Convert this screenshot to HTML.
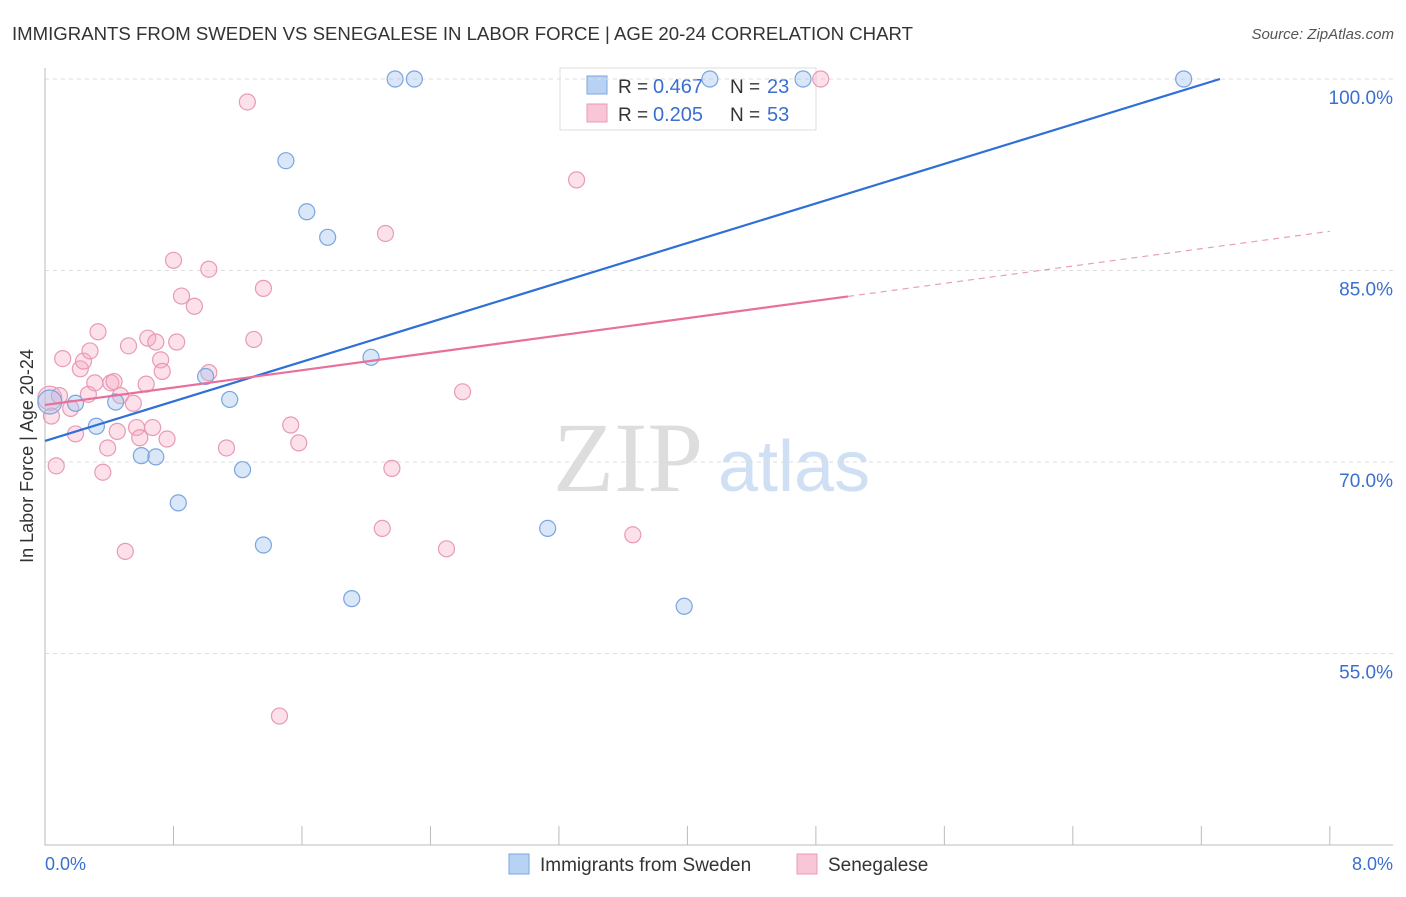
<!DOCTYPE html>
<html><head><meta charset="utf-8"><style>
body{margin:0;background:#fff;font-family:"Liberation Sans",sans-serif}
</style></head><body>
<svg id="chart" width="1406" height="892" viewBox="0 0 1406 892" font-family="Liberation Sans, sans-serif">
<text x="12" y="40" font-size="18.6" fill="#333">IMMIGRANTS FROM SWEDEN VS SENEGALESE IN LABOR FORCE | AGE 20-24 CORRELATION CHART</text>
<text x="1394" y="39" font-size="15" fill="#555" font-style="italic" text-anchor="end">Source: ZipAtlas.com</text>
<text x="553" y="491" font-size="100" fill="#ddd" style="font-family:'Liberation Serif',serif">ZIP</text>
<text x="718" y="491" font-size="72" fill="#cfe0f4">atlas</text>
<g>
<rect x="560" y="68" width="256" height="62" fill="#fff" stroke="#ddd"/>
<rect x="587" y="76" width="20" height="18" fill="#b8d2f4" stroke="#7aa5e0"/>
<rect x="587" y="104" width="20" height="18" fill="#f8c6d6" stroke="#e89ab5"/>
<text x="618" y="93" font-size="19" fill="#333">R =</text><text x="653" y="93" font-size="20" fill="#3a6fd0">0.467</text>
<text x="730" y="93" font-size="19" fill="#333">N =</text><text x="767" y="93" font-size="20" fill="#3a6fd0">23</text>
<text x="618" y="121" font-size="19" fill="#333">R =</text><text x="653" y="121" font-size="20" fill="#3a6fd0">0.205</text>
<text x="730" y="121" font-size="19" fill="#333">N =</text><text x="767" y="121" font-size="20" fill="#3a6fd0">53</text>
</g>
<g id="grid"></g><g id="axes"></g><g id="marks"></g>
<text transform="translate(33,456) rotate(-90)" font-size="18" fill="#333" text-anchor="middle">In Labor Force | Age 20-24</text>
<text x="45" y="870" font-size="18" fill="#3a6fd0">0.0%</text>
<text x="1393" y="870" font-size="18" fill="#3a6fd0" text-anchor="end">8.0%</text>
<g>
<rect x="509" y="854" width="20" height="20" fill="#b8d2f4" stroke="#7aa5e0"/>
<text x="540" y="871" font-size="19" fill="#333">Immigrants from Sweden</text>
<rect x="797" y="854" width="20" height="20" fill="#f8c6d6" stroke="#e89ab5"/>
<text x="828" y="871" font-size="19" fill="#333">Senegalese</text>
</g>
</svg>
<script>
const yTicks=[100,85,70,55];
const xTickCount=10;
const blueX=[0.03,0.19,0.32,0.44,0.60,0.69,0.83,1.00,1.15,1.23,1.36,1.50,1.63,1.76,1.91,2.03,2.18,2.30,3.13,3.98,4.14,4.72,7.09];
const blueY=[74.7,74.6,72.8,74.7,70.5,70.4,66.8,76.7,74.9,69.4,63.5,93.6,89.6,87.6,59.3,78.2,100,100,64.8,58.7,100,100,100];
const blueSize=[12,8,8,8,8,8,8,8,8,8,8,8,8,8,8,8,8,8,8,8,8,8,8];
const pinkX=[0.03,0.04,0.07,0.09,0.11,0.16,0.19,0.22,0.24,0.27,0.28,0.31,0.33,0.36,0.39,0.41,0.43,0.45,0.47,0.50,0.52,0.55,0.57,0.59,0.63,0.64,0.69,0.67,0.72,0.73,0.76,0.80,0.82,0.85,0.93,1.02,1.02,1.13,1.26,1.30,1.36,1.46,1.53,1.58,2.10,2.12,2.16,2.50,2.60,3.31,3.66,4.83];
const pinkY=[75.0,73.6,69.7,75.2,78.1,74.2,72.2,77.3,77.9,75.3,78.7,76.2,80.2,69.2,71.1,76.2,76.3,72.4,75.2,63.0,79.1,74.6,72.7,71.9,76.1,79.7,79.4,72.7,78.0,77.1,71.8,85.8,79.4,83.0,82.2,85.1,77.0,71.1,98.2,79.6,83.6,50.1,72.9,71.5,64.8,87.9,69.5,63.2,75.5,92.1,64.3,100];
const pinkSize=[12,8,8,8,8,8,8,8,8,8,8,8,8,8,8,8,8,8,8,8,8,8,8,8,8,8,8,8,8,8,8,8,8,8,8,8,8,8,8,8,8,8,8,8,8,8,8,8,8,8,8,8];
const blueTrend=[71.65,3.875], pinkTrend=[74.47,1.70];
const X=v=>45+v*160.6, Y=v=>79+(100-v)*12.767;
const NS="http://www.w3.org/2000/svg";
function mk(t,a,p){const e=document.createElementNS(NS,t);for(const k in a)e.setAttribute(k,a[k]);p.appendChild(e);return e;}
const grid=document.getElementById('grid'),axes=document.getElementById('axes'),marks=document.getElementById('marks'),svg=document.getElementById('chart');
yTicks.forEach(v=>{
 const l=mk('line',{x1:45,x2:1393,y1:Y(v),y2:Y(v),stroke:'#ddd','stroke-dasharray':'4,4'},grid);
 
 
 const t=mk('text',{x:1393,y:Y(v)+25,'font-size':19,fill:'#3a6fd0','text-anchor':'end'},svg);
 t.textContent=v.toFixed(1)+'%';
 
 
});
const ax=mk('path',{d:'M45 68V845H1393',stroke:'#bbb',fill:'none'},axes);


for(let i=1;i<=xTickCount;i++){
 const tk=mk('line',{x1:X(i*0.8),x2:X(i*0.8),y1:826,y2:845,stroke:'#bbb'},axes);
 
 
}
function pts(xs,ys,ss,fill,stroke,name){xs.forEach((x,i)=>{
 const c=mk('circle',{cx:X(x),cy:Y(ys[i]),r:ss[i],fill:fill,stroke:stroke,'stroke-width':1.2},marks);
 
 
});}
pts(pinkX,pinkY,pinkSize,'rgba(245,170,195,0.35)','#e89ab5','senegalese-point');
pts(blueX,blueY,blueSize,'rgba(160,196,240,0.4)','#7aa5e0','sweden-point');
const bEnd=(100-blueTrend[0])/blueTrend[1];
const bl=mk('line',{x1:X(0),y1:Y(blueTrend[0]),x2:X(bEnd),y2:Y(100),stroke:'#2f6fd6','stroke-width':2.2},marks);


const pl=mk('line',{x1:X(0),y1:Y(pinkTrend[0]),x2:X(5),y2:Y(pinkTrend[0]+5*pinkTrend[1]),stroke:'#e8709a','stroke-width':2.2},marks);


const pd=mk('line',{x1:X(5),y1:Y(pinkTrend[0]+5*pinkTrend[1]),x2:X(8),y2:Y(pinkTrend[0]+8*pinkTrend[1]),stroke:'#e8a0b8','stroke-width':1.2,'stroke-dasharray':'6,5'},marks);


</script>
</body></html>
